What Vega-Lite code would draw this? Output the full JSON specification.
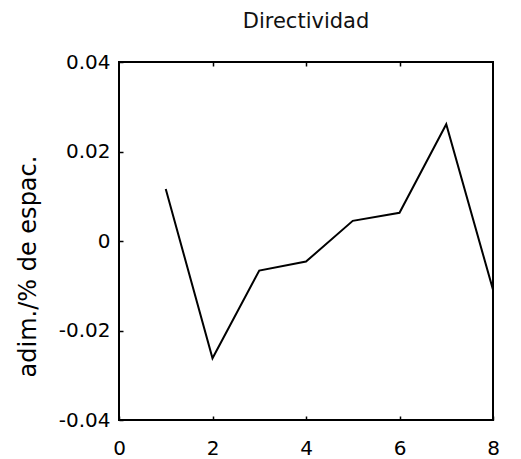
{
  "$schema": "https://vega.github.io/schema/vega-lite/v6.json",
  "autosize": "none",
  "width": 374,
  "height": 358,
  "padding": {"left": 119, "top": 62, "right": 28, "bottom": 39},
  "background": "white",
  "title": {
    "text": "Directividad",
    "font": "DejaVu Sans",
    "fontSize": 21,
    "fontWeight": "normal",
    "color": "#111",
    "anchor": "middle",
    "offset": 20
  },
  "config": {
    "view": {"stroke": "#000", "strokeWidth": 2},
    "axis": {
      "grid": false,
      "domain": false,
      "tickColor": "#000",
      "tickWidth": 1.5,
      "labelFont": "DejaVu Sans",
      "labelFontSize": 20,
      "labelColor": "#000",
      "titleFont": "DejaVu Sans",
      "titleColor": "#000",
      "titleFontWeight": "normal"
    }
  },
  "data": {
    "values": [
      {"x": 1, "y": 0.0116},
      {"x": 2, "y": -0.0262},
      {"x": 3, "y": -0.0066},
      {"x": 4, "y": -0.0046},
      {"x": 5, "y": 0.0045},
      {"x": 6, "y": 0.0063},
      {"x": 7, "y": 0.0261},
      {"x": 8, "y": -0.0109}
    ]
  },
  "layer": [
    {
      "mark": {"type": "line", "color": "#000", "strokeWidth": 2, "clip": true},
      "encoding": {
        "x": {
          "field": "x",
          "type": "quantitative",
          "scale": {"domain": [0, 8], "nice": false, "zero": false},
          "axis": {
            "values": [0, 2, 4, 6, 8],
            "title": null,
            "tickSize": -4,
            "labelPadding": 22,
            "labelFlush": false,
            "format": "d"
          }
        },
        "y": {
          "field": "y",
          "type": "quantitative",
          "scale": {"domain": [-0.04, 0.04], "nice": false, "zero": false},
          "axis": {
            "values": [-0.04, -0.02, 0, 0.02, 0.04],
            "title": "adim./% de espac.",
            "titleFontSize": 24,
            "titleAngle": -90,
            "titleAlign": "center",
            "titleBaseline": "alphabetic",
            "titleX": -84,
            "titleY": 204,
            "tickSize": -4,
            "labelPadding": 13,
            "labelFlush": false,
            "labelExpr": "datum.value == 0 ? '0' : (datum.value < 0 ? '-' + format(-datum.value, '.2f') : format(datum.value, '.2f'))"
          }
        }
      }
    },
    {
      "mark": {"type": "rule", "opacity": 0},
      "encoding": {
        "x": {
          "field": "x",
          "type": "quantitative",
          "axis": {
            "orient": "top",
            "values": [2, 4, 6],
            "labels": false,
            "title": null,
            "tickSize": -4
          }
        }
      }
    }
  ],
  "resolve": {"axis": {"x": "independent"}}
}
